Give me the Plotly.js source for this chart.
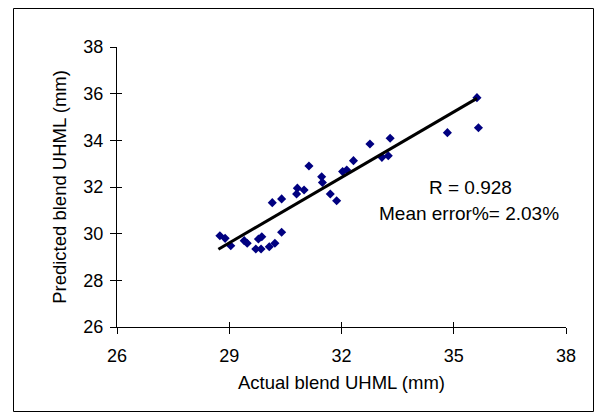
<!DOCTYPE html>
<html>
<head>
<meta charset="utf-8">
<script src="https://cdn.plot.ly/plotly-3.0.1.min.js"></script>
<style>html,body{margin:0;padding:0;background:#fff;}#chart{width:595px;height:419px;}</style>
</head>
<body>
<div id="chart"></div>
<script>
const actualUHML = [28.75, 28.89, 29.04, 29.40, 29.48, 29.71, 29.85, 29.78, 29.87, 30.07, 30.22, 30.40, 30.15, 30.40, 30.80, 30.82, 31.00, 31.13, 31.47, 31.49, 31.70, 31.87, 32.03, 32.14, 32.32, 32.76, 33.08, 33.25, 33.30, 34.83, 35.62, 35.66];
const predictedUHML = [29.91, 29.80, 29.48, 29.70, 29.59, 29.34, 29.34, 29.77, 29.87, 29.44, 29.59, 30.06, 31.33, 31.49, 31.70, 31.95, 31.87, 32.90, 32.44, 32.19, 31.70, 31.41, 32.66, 32.73, 33.13, 33.84, 33.27, 33.34, 34.09, 34.33, 35.83, 34.54];
const trendX = [28.71, 35.62];
const trendY = [29.33, 35.80];
const xTicks = [26, 29, 32, 35, 38];
const yTicks = [26, 28, 30, 32, 34, 36, 38];
const statLines = ["R = 0.928", "Mean error%= 2.03%"];

const FONT = "Liberation Sans, Arial, sans-serif";

const traces = [
  {
    x: actualUHML, y: predictedUHML, type: "scatter", mode: "markers",
    marker: {symbol: "diamond", size: 7, color: "#000080"},
    hoverinfo: "skip", showlegend: false
  },
  {
    x: trendX, y: trendY, type: "scatter", mode: "lines",
    line: {color: "#000000", width: 3},
    xaxis: "x2", yaxis: "y2",
    hoverinfo: "skip", showlegend: false
  }
];

const axisCommon = {
  showgrid: false, zeroline: false,
  showline: true, linecolor: "#000", linewidth: 1,
  ticks: "outside", ticklen: 6, tickwidth: 1, tickcolor: "#000",
  tickfont: {family: FONT, size: 18, color: "#000"},
  tickmode: "array"
};

const layout = {
  width: 595, height: 419,
  margin: {l: 117, r: 29, t: 47, b: 92},
  paper_bgcolor: "#fff", plot_bgcolor: "#fff",
  showlegend: false,
  xaxis: Object.assign({}, axisCommon, {
    range: [26, 38], tickvals: xTicks, ticktext: xTicks.map(String),
    ticklabelstandoff: 6,
    title: {text: "Actual blend UHML (mm)", font: {family: FONT, size: 18.5, color: "#000"}, standoff: 11}
  }),
  yaxis: Object.assign({}, axisCommon, {
    range: [26, 38], tickvals: yTicks, ticktext: yTicks.map(String),
    ticklabelstandoff: 3,
    title: {text: "Predicted blend UHML (mm)", font: {family: FONT, size: 18.5, color: "#000"}, standoff: 11}
  }),
  xaxis2: {
    overlaying: "x", range: [26, 38], showgrid: false, zeroline: false, showline: false,
    ticks: "inside", ticklen: 5, tickwidth: 1, tickcolor: "#000",
    tickmode: "array", tickvals: xTicks, showticklabels: false
  },
  yaxis2: {
    overlaying: "y", range: [26, 38], showgrid: false, zeroline: false, showline: false,
    ticks: "inside", ticklen: 5, tickwidth: 1, tickcolor: "#000",
    tickmode: "array", tickvals: yTicks, showticklabels: false
  },
  annotations: [
    {xref: "paper", yref: "paper", x: (470 - 117) / 449, y: (327 - 187) / 280,
     text: statLines[0], showarrow: false, xanchor: "center", yanchor: "middle",
     font: {family: FONT, size: 19, color: "#000"}},
    {xref: "paper", yref: "paper", x: (469 - 117) / 449, y: (327 - 213) / 280,
     text: statLines[1], showarrow: false, xanchor: "center", yanchor: "middle",
     font: {family: FONT, size: 19, color: "#000"}}
  ],
  shapes: [
    {type: "rect", xref: "paper", yref: "paper",
     x0: (13.5 - 117) / 449, x1: (593.5 - 117) / 449,
     y0: (327 - 411.5) / 280, y1: (327 - 8.5) / 280,
     line: {color: "#000", width: 1}, fillcolor: "rgba(0,0,0,0)", layer: "below"}
  ]
};

Plotly.newPlot("chart", traces, layout, {staticPlot: true, displayModeBar: false});
</script>
</body>
</html>
